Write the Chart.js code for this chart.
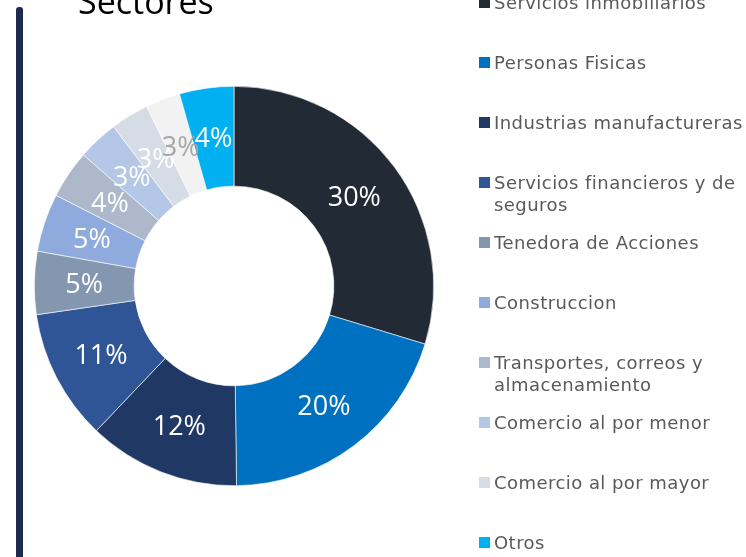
<!DOCTYPE html>
<html>
<head>
<meta charset="utf-8">
<script src="https://cdn.jsdelivr.net/npm/chart.js@4"></script>
<style>
  html, body { margin: 0; padding: 0; background: #fff; overflow: hidden; }
  #chart { display: block; }
</style>
</head>
<body>
<canvas id="chart" width="746" height="557"></canvas>
<script>
// Sectores — distribución por sector (doughnut)
const sectores = [
    'Servicios inmobiliarios',
    'Personas Fisicas',
    'Industrias manufactureras',
    'Servicios financieros y de seguros',
    'Tenedora de Acciones',
    'Construccion',
    'Transportes, correos y almacenamiento',
    'Comercio al por menor',
    'Comercio al por mayor',
    'Sin clasificar',
    'Otros'
];
const porcentajes = [29.7, 20.1, 12.3, 10.6, 5.1, 4.7, 3.9, 3.3, 3.1, 2.8, 4.4];
const colores = ['#222a35', '#0070c0', '#1f3864', '#2f5597', '#8497b0', '#8faadc',
                 '#adb9ca', '#b4c7e7', '#d6dce5', '#f2f2f2', '#00b0f0'];
const coloresEtiqueta = ['#fff', '#fff', '#fff', '#fff', '#fff', '#fff',
                         '#fff', '#fff', '#fff', '#a6a6a6', '#fff'];
// la leyenda del original no muestra este sector
const fueraDeLeyenda = ['Sin clasificar'];

// etiquetas de porcentaje dentro de cada sector
const etiquetasPct = {
    id: 'etiquetasPct',
    afterDatasetsDraw(chart) {
        const ctx = chart.ctx;
        const meta = chart.getDatasetMeta(0);
        ctx.save();
        ctx.font = '27px "Open Sans", sans-serif';
        ctx.textAlign = 'center';
        ctx.textBaseline = 'alphabetic';
        meta.data.forEach((arc, i) => {
            const p = arc.tooltipPosition();
            ctx.fillStyle = coloresEtiqueta[i];
            ctx.fillText(Math.round(porcentajes[i]) + '%', p.x, p.y + 9.5);
        });
        ctx.restore();
    }
};

// barra lateral, título y leyenda
const decoracion = {
    id: 'decoracion',
    afterDraw(chart) {
        const ctx = chart.ctx;
        ctx.save();
        // barra vertical
        ctx.fillStyle = '#1f2a50';
        ctx.beginPath();
        ctx.roundRect(16, 7, 7, 560, [3, 3, 0, 0]);
        ctx.fill();

        // título (cortado arriba, como en el original)
        ctx.fillStyle = '#000';
        ctx.font = '34px "Open Sans", sans-serif';
        ctx.textAlign = 'left';
        ctx.textBaseline = 'alphabetic';
        ctx.fillText('Sectores', 78, 14);

        // leyenda
        ctx.font = '18px "DejaVu Sans", Verdana, sans-serif';
        if ('letterSpacing' in ctx) ctx.letterSpacing = '0.45px';
        let fila = 0;
        sectores.forEach((nombre, i) => {
            if (fueraDeLeyenda.includes(nombre)) return;
            const cy = 2.5 + 60 * fila;
            ctx.fillStyle = colores[i];
            ctx.fillRect(479, cy - 5.5, 11, 11);
            ctx.fillStyle = '#595959';
            // cortar en líneas si no cabe
            const palabras = nombre.split(' ');
            const lineas = [];
            let actual = '';
            palabras.forEach(w => {
                const prueba = actual ? actual + ' ' + w : w;
                if (ctx.measureText(prueba).width > 262 && actual) {
                    lineas.push(actual);
                    actual = w;
                } else {
                    actual = prueba;
                }
            });
            lineas.push(actual);
            lineas.forEach((l, k) => ctx.fillText(l, 494, cy + 6.5 + k * 22));
            fila++;
        });
        ctx.restore();
    }
};

const grafico = new Chart(document.getElementById('chart'), {
    type: 'doughnut',
    data: {
        labels: sectores,
        datasets: [{
            data: porcentajes,
            backgroundColor: colores,
            borderColor: '#ffffff',
            borderWidth: 0.6
        }]
    },
    options: {
        responsive: false,
        animation: false,
        cutout: '50%',
        layout: { padding: { left: 34, top: 86, right: 312, bottom: 71 } },
        plugins: {
            legend: { display: false },
            tooltip: { enabled: false }
        }
    },
    plugins: [etiquetasPct, decoracion]
});
</script>
</body>
</html>
